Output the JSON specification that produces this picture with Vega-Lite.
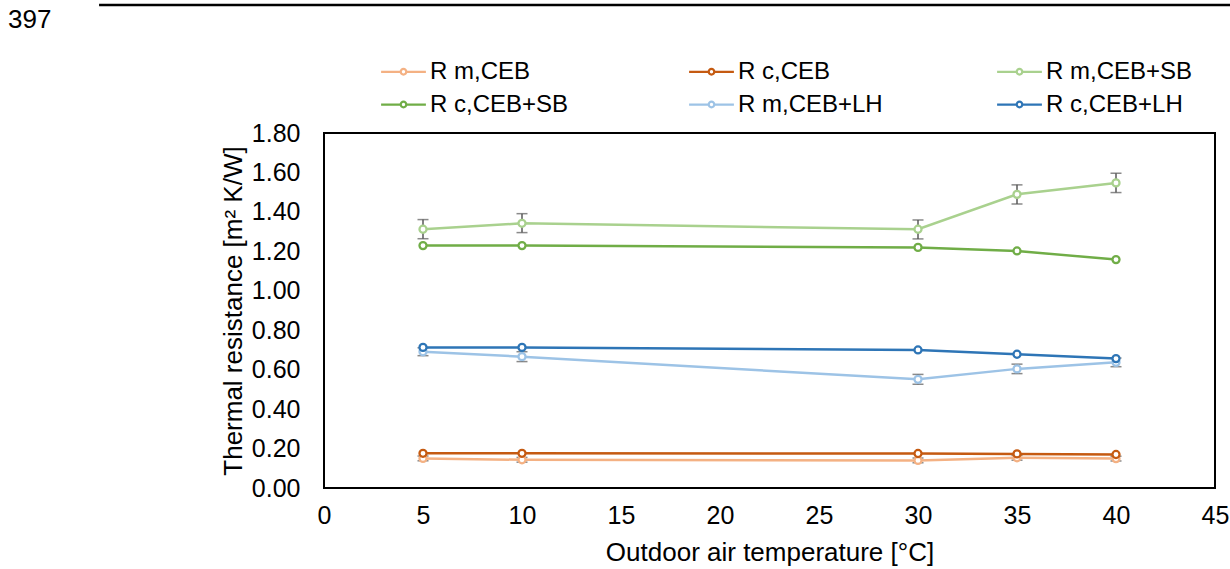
{
  "$schema": "https://vega.github.io/schema/vega-lite/v6.json",
  "width": 891,
  "height": 355,
  "autosize": {"type": "none"},
  "padding": {"left": 324, "top": 133, "right": 15, "bottom": 81},
  "background": "white",
  "config": {
    "font": "Liberation Sans",
    "view": {"stroke": "black", "strokeWidth": 2},
    "axis": {
      "grid": false,
      "domain": false,
      "ticks": false,
      "tickSize": 0,
      "labelOverlap": false,
      "labelFlush": false,
      "labelFont": "Liberation Sans",
      "labelFontSize": 25,
      "labelColor": "black",
      "titleFont": "Liberation Sans",
      "titleFontSize": 26,
      "titleFontWeight": "normal",
      "titleColor": "black"
    },
    "axisX": {"labelPadding": 15, "titlePadding": 11, "labelFlush": false},
    "axisY": {"values": [0, 0.2, 0.4, 0.6, 0.8, 1.0, 1.2, 1.4, 1.6, 1.8], "format": ".2f", "labelPadding": 24, "titlePadding": 5},
    "legend": {
      "orient": "none",
      "legendX": 64,
      "legendY": -77,
      "direction": "horizontal",
      "columns": 3,
      "gridAlign": "all",
      "columnPadding": 107,
      "rowPadding": 5,
      "padding": 0,
      "labelFont": "Liberation Sans",
      "labelFontSize": 24,
      "labelColor": "black",
      "labelOffset": 11,
      "symbolType": "M-1.6,0L-0.2,0M0.2,0L1.6,0M-0.2,0A0.2,0.2,0,1,0,0.2,0A0.2,0.2,0,1,0,-0.2,0Z",
      "symbolSize": 784,
      "symbolStrokeWidth": 2.25,
      "symbolFillColor": "white"
    }
  },
  "datasets": {
    "series": [
      {"T": 5, "series": "R m,CEB", "R": 0.150, "lo": 0.138, "hi": 0.162},
      {"T": 10, "series": "R m,CEB", "R": 0.143, "lo": 0.131, "hi": 0.155},
      {"T": 30, "series": "R m,CEB", "R": 0.140, "lo": 0.128, "hi": 0.152},
      {"T": 35, "series": "R m,CEB", "R": 0.153, "lo": 0.141, "hi": 0.165},
      {"T": 40, "series": "R m,CEB", "R": 0.149, "lo": 0.137, "hi": 0.161},
      {"T": 5, "series": "R c,CEB", "R": 0.176},
      {"T": 10, "series": "R c,CEB", "R": 0.176},
      {"T": 30, "series": "R c,CEB", "R": 0.175},
      {"T": 35, "series": "R c,CEB", "R": 0.173},
      {"T": 40, "series": "R c,CEB", "R": 0.170},
      {"T": 5, "series": "R m,CEB+SB", "R": 1.312, "lo": 1.264, "hi": 1.361},
      {"T": 10, "series": "R m,CEB+SB", "R": 1.342, "lo": 1.295, "hi": 1.391},
      {"T": 30, "series": "R m,CEB+SB", "R": 1.312, "lo": 1.263, "hi": 1.359},
      {"T": 35, "series": "R m,CEB+SB", "R": 1.489, "lo": 1.440, "hi": 1.537},
      {"T": 40, "series": "R m,CEB+SB", "R": 1.547, "lo": 1.498, "hi": 1.596},
      {"T": 5, "series": "R c,CEB+SB", "R": 1.229},
      {"T": 10, "series": "R c,CEB+SB", "R": 1.229},
      {"T": 30, "series": "R c,CEB+SB", "R": 1.220},
      {"T": 35, "series": "R c,CEB+SB", "R": 1.202},
      {"T": 40, "series": "R c,CEB+SB", "R": 1.158},
      {"T": 5, "series": "R m,CEB+LH", "R": 0.691, "lo": 0.671, "hi": 0.711},
      {"T": 10, "series": "R m,CEB+LH", "R": 0.666, "lo": 0.641, "hi": 0.691},
      {"T": 30, "series": "R m,CEB+LH", "R": 0.551, "lo": 0.526, "hi": 0.576},
      {"T": 35, "series": "R m,CEB+LH", "R": 0.604, "lo": 0.580, "hi": 0.628},
      {"T": 40, "series": "R m,CEB+LH", "R": 0.637, "lo": 0.615, "hi": 0.659},
      {"T": 5, "series": "R c,CEB+LH", "R": 0.713},
      {"T": 10, "series": "R c,CEB+LH", "R": 0.713},
      {"T": 30, "series": "R c,CEB+LH", "R": 0.700},
      {"T": 35, "series": "R c,CEB+LH", "R": 0.678},
      {"T": 40, "series": "R c,CEB+LH", "R": 0.656}
    ]
  },
  "layer": [
    {
      "data": {"values": [{"note": "page rule"}]},
      "mark": {"type": "rule", "color": "black", "strokeWidth": 2.5},
      "encoding": {
        "x": {"datum": -11.36, "type": "quantitative", "scale": {"domain": [0, 45], "nice": false, "zero": false}, "title": "Outdoor air temperature [°C]", "axis": {"values": [0, 5, 10, 15, 20, 25, 30, 35, 40, 45], "labelFlush": false}},
        "x2": {"datum": 45.76},
        "y": {"datum": 2.449, "type": "quantitative", "scale": {"domain": [0, 1.8], "nice": false}, "title": "Thermal resistance [m² K/W]"}
      }
    },
    {
      "data": {"values": [{"label": "397"}]},
      "mark": {"type": "text", "align": "left", "baseline": "middle", "font": "Liberation Sans", "fontSize": 26, "color": "black"},
      "encoding": {
        "text": {"field": "label"},
        "x": {"datum": -15.96, "type": "quantitative", "scale": {"domain": [0, 45], "nice": false, "zero": false}, "title": "Outdoor air temperature [°C]", "axis": {"values": [0, 5, 10, 15, 20, 25, 30, 35, 40, 45], "labelFlush": false}},
        "y": {"datum": 2.373, "type": "quantitative", "scale": {"domain": [0, 1.8], "nice": false}, "title": "Thermal resistance [m² K/W]"}
      }
    },
    {
      "data": {"name": "series"},
      "transform": [{"filter": "isValid(datum.lo)"}],
      "mark": {"type": "rule", "color": "#595959", "strokeWidth": 1.5},
      "encoding": {
        "x": {"field": "T", "type": "quantitative", "scale": {"domain": [0, 45], "nice": false, "zero": false}, "title": "Outdoor air temperature [°C]", "axis": {"values": [0, 5, 10, 15, 20, 25, 30, 35, 40, 45], "labelFlush": false}},
        "y": {"field": "lo", "type": "quantitative", "scale": {"domain": [0, 1.8], "nice": false}, "title": "Thermal resistance [m² K/W]"},
        "y2": {"field": "hi"}
      }
    },
    {
      "data": {"name": "series"},
      "transform": [{"filter": "isValid(datum.lo)"}, {"fold": ["lo", "hi"], "as": ["end", "val"]}],
      "mark": {"type": "tick", "orient": "horizontal", "size": 11, "thickness": 1.5, "color": "#595959"},
      "encoding": {
        "x": {"field": "T", "type": "quantitative", "scale": {"domain": [0, 45], "nice": false, "zero": false}, "title": "Outdoor air temperature [°C]", "axis": {"values": [0, 5, 10, 15, 20, 25, 30, 35, 40, 45], "labelFlush": false}},
        "y": {"field": "val", "type": "quantitative", "scale": {"domain": [0, 1.8], "nice": false}, "title": "Thermal resistance [m² K/W]"}
      }
    },
    {
      "data": {"name": "series"},
      "mark": {"type": "line", "strokeWidth": 2.5, "point": {"filled": false, "fill": "white", "size": 50, "strokeWidth": 2.25}},
      "encoding": {
        "x": {"field": "T", "type": "quantitative", "scale": {"domain": [0, 45], "nice": false, "zero": false}, "title": "Outdoor air temperature [°C]", "axis": {"values": [0, 5, 10, 15, 20, 25, 30, 35, 40, 45], "labelFlush": false}},
        "y": {"field": "R", "type": "quantitative", "scale": {"domain": [0, 1.8], "nice": false}, "title": "Thermal resistance [m² K/W]"},
        "color": {
          "field": "series", "type": "nominal",
          "scale": {
            "domain": ["R m,CEB", "R c,CEB", "R m,CEB+SB", "R c,CEB+SB", "R m,CEB+LH", "R c,CEB+LH"],
            "range": ["#F4B183", "#C55A11", "#A9D18E", "#70AD47", "#9DC3E6", "#2E75B6"]
          },
          "legend": {"title": null}
        },
        "order": {"field": "T", "type": "quantitative"}
      }
    }
  ]
}
